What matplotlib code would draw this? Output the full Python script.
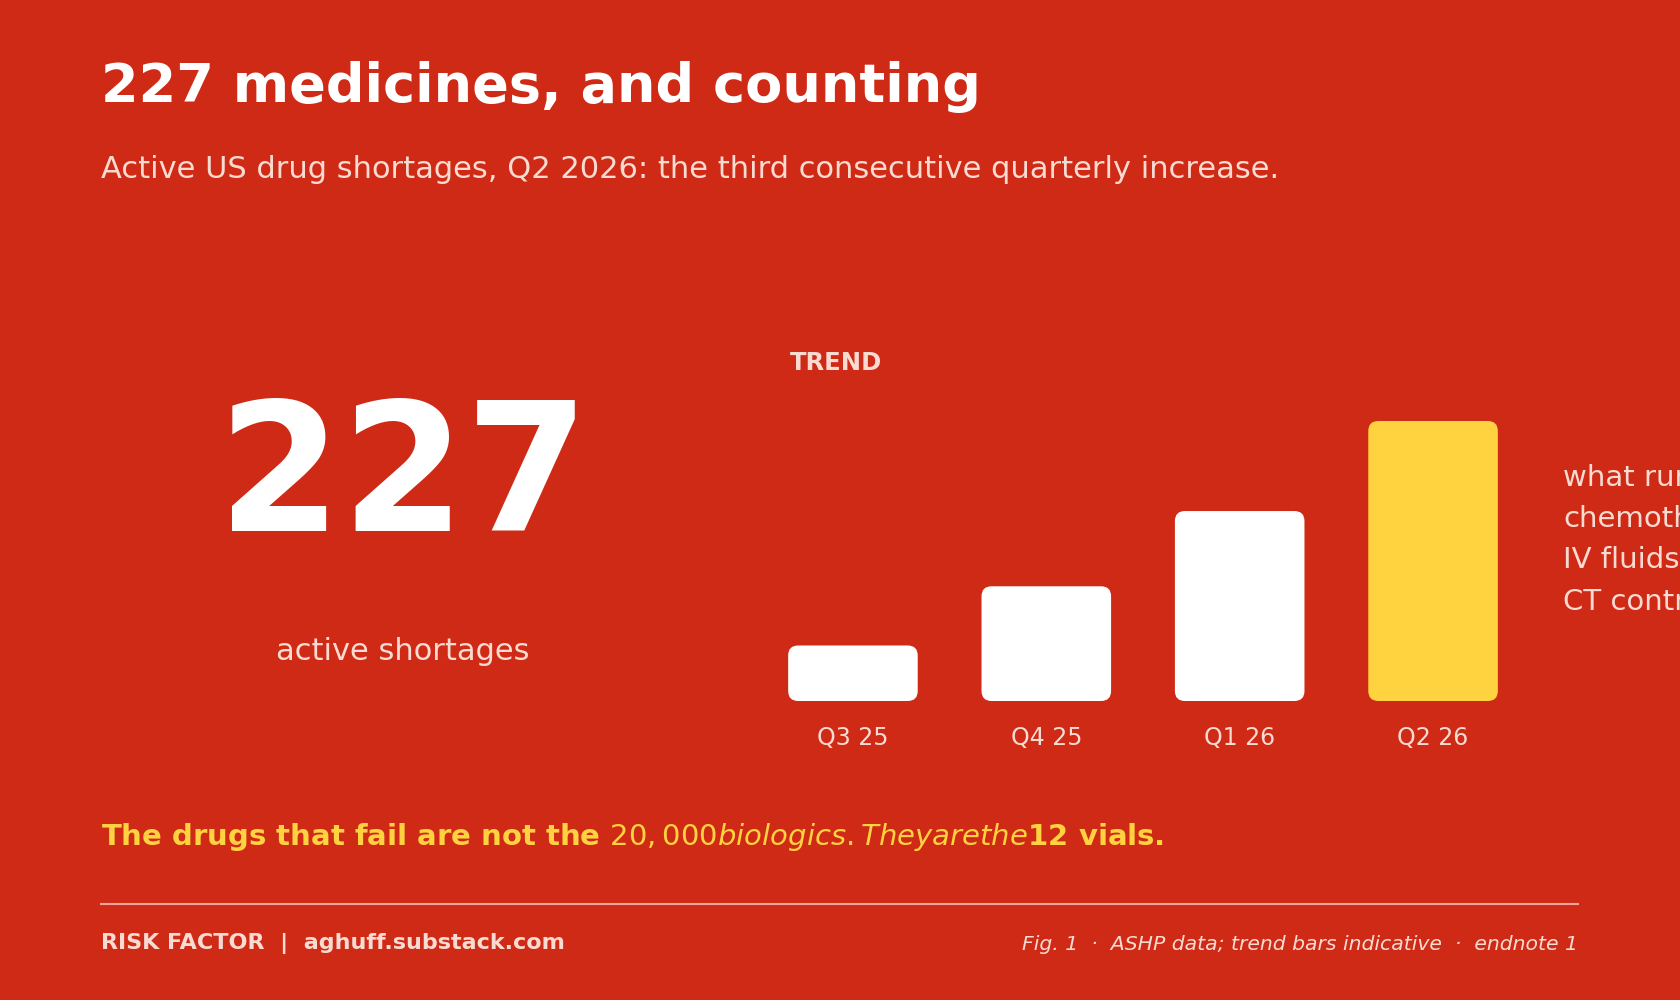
import matplotlib
matplotlib.use("Agg")
import matplotlib.pyplot as plt
from matplotlib.patches import FancyBboxPatch

# ---- data ----
quarters = ["Q3 25", "Q4 25", "Q1 26", "Q2 26"]
shortage_trend = [45, 93, 154, 227]   # indicative bar heights
highlight = [False, False, False, True]
headline_number = "227"
title = "227 medicines, and counting"
subtitle = "Active US drug shortages, Q2 2026: the third consecutive quarterly increase."
side_lines = ["what runs short:", "chemotherapy,", "IV fluids,", "CT contrast."]
callout = "The drugs that fail are not the $20,000 biologics. They are the $12 vials."
footer_left = "RISK FACTOR  |  aghuff.substack.com"
footer_right = "Fig. 1  \u00b7  ASHP data; trend bars indicative  \u00b7  endnote 1"

BG = "#CF2A16"
WHITE = "#FFFFFF"
PINK = "#FADBD2"
YELLOW = "#FFD23F"

W, H = 1680, 1000
fig = plt.figure(figsize=(W / 100, H / 100), dpi=100, facecolor=BG)
plt.rcParams['font.family'] = ['DejaVu Sans']

def fx(px):
    return px / W

def fy(py):
    return 1 - py / H

# Titles
fig.text(fx(101), fy(102), title, color=WHITE, fontsize=39, fontweight="bold",
         ha="left", va="baseline")
fig.text(fx(101), fy(178), subtitle, color=PINK, fontsize=22, ha="left", va="baseline")

# Big number
fig.text(fx(403), fy(531), headline_number, color=WHITE, fontsize=128, fontweight="bold",
         ha="center", va="baseline")
fig.text(fx(403), fy(660), "active shortages", color=PINK, fontsize=22,
         ha="center", va="baseline")

# Trend label
fig.text(fx(790), fy(363), "TREND", color=PINK, fontsize=17.5, fontweight="bold",
         ha="left", va="center")

# Bar axes
spacing = 193.5
ax_left = 853 - spacing / 2
ax_right = 1433 + spacing / 2
ax_bottom = 701
ymax = 250
px_per_unit = 280 / 227
ax_top = ax_bottom - ymax * px_per_unit
ax = fig.add_axes([fx(ax_left), fy(ax_bottom), (ax_right - ax_left) / W, (ax_bottom - ax_top) / H])
ax.set_facecolor("none")
ax.set_xlim(-0.5, len(quarters) - 0.5)
ax.set_ylim(0, ymax)
for s in ax.spines.values():
    s.set_visible(False)
ax.set_yticks([])

colors = [YELLOW if h else WHITE for h in highlight]
bars = ax.bar(range(len(quarters)), shortage_trend, width=0.67, color=colors)

# replace bars with rounded boxes
x_units_per_px = 1 / spacing
y_units_per_px = 1 / px_per_unit
aspect = y_units_per_px / x_units_per_px
r = 10 * x_units_per_px
for b, c in zip(bars, colors):
    x0, y0, w, h = b.get_x(), b.get_y(), b.get_width(), b.get_height()
    b.set_visible(False)
    p = FancyBboxPatch((x0, y0), w, h,
                       boxstyle=f"round,pad=0,rounding_size={r}",
                       mutation_aspect=aspect, facecolor=c, edgecolor="none")
    ax.add_patch(p)

ax.set_xticks(range(len(quarters)))
ax.set_xticklabels(quarters, color=PINK, fontsize=17)
ax.tick_params(axis="x", length=0, pad=18)

# Side text (runs off the right edge, as in the reference)
side_y = [486, 527, 568, 610]
for line, yy in zip(side_lines, side_y):
    fig.text(fx(1563), fy(yy), line, color=PINK, fontsize=21, ha="left", va="baseline")

# Callout
fig.text(fx(101), fy(845), callout, color=YELLOW, fontsize=21, fontweight="bold",
         ha="left", va="baseline")

# separator
fig.add_artist(plt.Line2D([fx(101), fx(1578)], [fy(904), fy(904)], color=PINK,
                          alpha=0.7, linewidth=1.5, transform=fig.transFigure))

# Footer
fig.text(fx(101), fy(944), footer_left, color=PINK, fontsize=16, fontweight="bold",
         ha="left", va="center")
fig.text(fx(1578), fy(944), footer_right, color=PINK, fontsize=14.7, style="italic",
         ha="right", va="center")

fig.savefig("out.png", dpi=100, facecolor=BG)
